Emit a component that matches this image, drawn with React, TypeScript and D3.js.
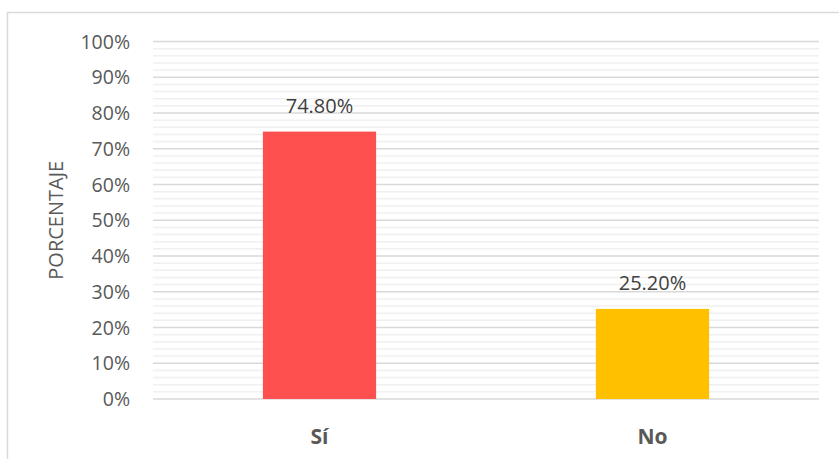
import React from 'react';
import * as d3 from 'd3';

const categories = ['Sí', 'No'];
const values = [74.8, 25.2];
const valueLabels = ['74.80%', '25.20%'];
const barColors = ['#FF5050', '#FFC000'];
const majorTicks = [0, 10, 20, 30, 40, 50, 60, 70, 80, 90, 100];

const width = 839;
const height = 459;
const plotLeft = 153;
const plotRight = 819;
const plotTop = 41.5;
const plotBottom = 399;

export default function App() {
  const x = d3.scaleBand<string>().domain(categories).range([plotLeft, plotRight]).paddingInner(0.66).paddingOuter(0.33);
  const y = d3.scaleLinear().domain([0, 100]).range([plotBottom, plotTop]);
  const minorTicks = d3.range(0, 101, 2).filter((d) => d % 10 !== 0);
  const font = '"Open Sans", "Noto Sans", sans-serif';

  return (
    <svg
      width={width}
      height={height}
      style={{ position: 'absolute', left: 0, top: 0, background: '#fff' }}
      fontFamily={font}
    >
      {/* chart frame */}
      <path d={`M7.5,${height} V12.5 H${width}`} fill="none" stroke="#d9d9d9" strokeWidth={1.5} />

      {/* minor grid */}
      {minorTicks.map((t) => (
        <line key={'m' + t} x1={plotLeft} x2={plotRight} y1={y(t)} y2={y(t)} stroke="#f0f0f0" strokeWidth={1.5} />
      ))}
      {/* major grid */}
      {majorTicks.map((t) => (
        <line key={'M' + t} x1={plotLeft} x2={plotRight} y1={y(t)} y2={y(t)} stroke="#d9d9d9" strokeWidth={1.5} />
      ))}

      {/* y tick labels */}
      {majorTicks.map((t) => (
        <text key={'t' + t} x={130} y={y(t)} dy="0.37em" textAnchor="end" fontSize={19.5} fill="#595959">
          {t}%
        </text>
      ))}

      {/* axis title */}
      <text
        transform={`translate(63,${(plotTop + plotBottom) / 2}) rotate(-90)`}
        textAnchor="middle"
        fontSize={20}
        fill="#595959"
      >
        PORCENTAJE
      </text>

      {/* bars */}
      {categories.map((c, i) => (
        <rect
          key={c}
          x={x(c)}
          y={y(values[i])}
          width={x.bandwidth()}
          height={plotBottom - y(values[i])}
          fill={barColors[i]}
        />
      ))}

      {/* value labels */}
      {categories.map((c, i) => (
        <text
          key={'v' + c}
          x={(x(c) ?? 0) + x.bandwidth() / 2}
          y={y(values[i]) - 18.5}
          textAnchor="middle"
          fontSize={20}
          fill="#404040"
        >
          {valueLabels[i]}
        </text>
      ))}

      {/* category labels */}
      {categories.map((c) => (
        <text
          key={'c' + c}
          x={(x(c) ?? 0) + x.bandwidth() / 2}
          y={444}
          textAnchor="middle"
          fontSize={21}
          fontWeight="bold"
          fill="#595959"
        >
          {c}
        </text>
      ))}
    </svg>
  );
}
